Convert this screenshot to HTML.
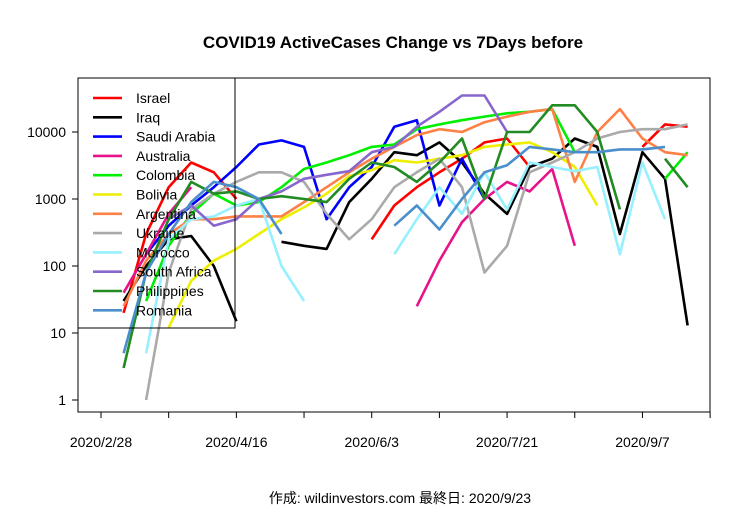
<!DOCTYPE html>
<html><head><meta charset="utf-8"><style>body{margin:0;background:#fff}svg{display:block}text{font-family:"Liberation Sans","Noto Sans CJK JP",sans-serif}</style></head>
<body>
<svg id="c" width="750" height="511"></svg>
<script>
const days=[8,16,24,32,40,48,56,64,72,80,88,96,104,112,120,128,136,144,152,160,168,176,184,192,200,208];
const xTickLabels=["2020/2/28","2020/4/16","2020/6/3","2020/7/21","2020/9/7"];
const xTickDays=[0,48,96,144,192];
const yTickValues=[1,10,100,1000,10000];
const seriesNames=["Israel","Iraq","Saudi Arabia","Australia","Colombia","Bolivia","Argentina","Ukraine","Morocco","South Africa","Philippines","Romania"];
const seriesColors=["#ff0000","#000000","#0000ff","#e7138a","#00ee00","#eeee00","#ff8045","#aaaaaa","#96f0ff","#8866cc","#228b22","#4a8fcc"];
const N=null;
const israel=[20,300,1500,3500,2500,1000,N,N,N,N,N,250,800,1500,2500,4000,7000,8000,3000,N,N,N,N,6000,13000,12000];
const iraq=[30,100,250,280,100,15,N,230,200,180,900,2000,5000,4500,7000,3500,1200,600,3000,4000,8000,6000,300,5000,2000,13];
const saudi=[N,150,400,800,1500,3000,6500,7500,6000,500,1500,3000,12000,15000,800,4000,1000,N,N,N,N,N,N,N,N,N];
const australia=[40,150,600,1500,N,N,N,N,N,N,N,N,N,25,120,450,1000,1800,1300,2800,200,N,N,N,N,N];
const colombia=[N,30,200,600,1200,800,900,1500,2800,3500,4500,6000,6500,11000,13000,15000,17000,19000,20000,22000,5000,N,N,N,2000,5000];
const bolivia=[N,N,12,60,120,180,300,500,750,1200,2200,2700,3800,3500,4000,4500,6000,6500,7000,5000,3000,800,N,N,N,N];
const argentina=[25,120,300,500,500,550,550,550,900,1500,2500,4000,6000,9000,11000,10000,14000,17000,20000,22000,1800,10000,22000,8000,5000,4500];
const ukraine=[N,1,80,700,1200,1800,2500,2500,1800,600,250,500,1500,2500,4000,1500,80,200,2500,3500,5000,8000,10000,11000,11000,13000];
const morocco=[N,5,250,500,550,800,1000,100,30,N,N,N,150,500,1500,600,2500,700,3500,3000,2600,3000,150,3500,500,N];
const southAfrica=[N,N,500,800,400,500,1000,1300,2000,2300,2600,5000,6000,12000,20000,35000,35000,10000,N,N,N,N,N,N,N,N];
const philippines=[3,80,500,1800,1200,1300,1000,1100,1000,900,2000,3500,3000,1800,3500,8000,1000,10000,10000,25000,25000,10000,700,N,4000,1500];
const romania=[5,80,300,900,1800,1500,1000,300,N,N,N,N,400,800,350,1000,2500,3200,6000,5500,5000,5000,5500,5500,6000,N];
const seriesValues=[israel,iraq,saudi,australia,colombia,bolivia,argentina,ukraine,morocco,southAfrica,philippines,romania];

const svg=document.getElementById('c');const NS='http://www.w3.org/2000/svg';
function mk(t,a,p){const e=document.createElementNS(NS,t);for(const k in a)e.setAttribute(k,a[k]);(p||svg).appendChild(e);return e;}
const X=d=>101+2.82*d;
const Y=v=>400-67*Math.log10(v);
let t=mk('text',{x:393,y:48,'text-anchor':'middle','font-size':'17','font-weight':'bold'});t.textContent='COVID19 ActiveCases Change vs 7Days before';


const plot=mk('g',{});


seriesValues.forEach((vals,i)=>{
  let d='',pen=false;
  vals.forEach((v,j)=>{if(v==null){pen=false;return;}d+=(pen?'L':'M')+X(days[j]).toFixed(1)+' '+Y(v).toFixed(1);pen=true;});
  const p=mk('path',{d:d,fill:'none',stroke:seriesColors[i],'stroke-width':2.6,'stroke-linejoin':'round'},plot);
  
  
});
const frame=mk('rect',{x:78,y:78,width:632,height:334,fill:'none',stroke:'#000','stroke-width':1});


const yax=mk('g',{});


mk('line',{x1:78,x2:78,y1:Y(1),y2:Y(10000),stroke:'#000'},yax);
yTickValues.forEach(v=>{mk('line',{x1:72,x2:78,y1:Y(v),y2:Y(v),stroke:'#000'},yax);
  const tx=mk('text',{x:66,y:Y(v)+5,'text-anchor':'end','font-size':'14'},yax);tx.textContent=String(v);
  
  });
const xax=mk('g',{});


mk('line',{x1:X(0),x2:X(216),y1:412,y2:412,stroke:'#000'},xax);
for(let d=0;d<=216;d+=24)mk('line',{x1:X(d),x2:X(d),y1:412,y2:418,stroke:'#000'},xax);
xTickLabels.forEach((l,i)=>{const tx=mk('text',{x:X(xTickDays[i]),y:447,'text-anchor':'middle','font-size':'14'},xax);tx.textContent=l;
  
  });
const lg=mk('g',{});


mk('rect',{x:78,y:78,width:157,height:250,fill:'none',stroke:'#000'},lg);
seriesNames.forEach((n,i)=>{const y=98+19.3*i;
  const g=mk('g',{},lg);
  
  
  mk('line',{x1:93,x2:122,y1:y,y2:y,stroke:seriesColors[i],'stroke-width':2.6},g);
  const tx=mk('text',{x:136,y:y+5,'font-size':'14'},g);tx.textContent=n;});
const f=mk('text',{x:400,y:503,'text-anchor':'middle','font-size':'14'});f.textContent='作成: wildinvestors.com 最終日: 2020/9/23';


</script>
</body></html>
